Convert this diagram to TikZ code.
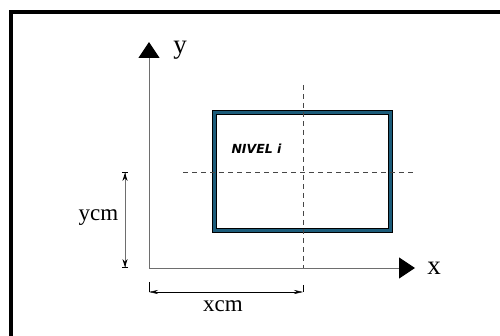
\documentclass[tikz,border=0pt]{standalone}
\usepackage{fontspec}
\setmainfont{Liberation Serif}
\setsansfont{DejaVu Sans}
\usetikzlibrary{arrows.meta}
\definecolor{nivelblue}{RGB}{28,92,122}
\definecolor{axisgray}{RGB}{110,110,110}
\definecolor{dashgray}{RGB}{70,70,70}

\begin{document}
\begin{tikzpicture}[x=1pt,y=-1pt]
\useasboundingbox (0,0) rectangle (500,336);
\draw[line width=4pt] (11,336) -- (11,12) -- (500,12);
\coordinate (O) at (149,268);
\coordinate (ytip) at (149,42);
\coordinate (xtip) at (415,268);
\coordinate (vtop) at (303,85);
\coordinate (vbot) at (303,268);
\coordinate (hleft) at (183,172);
\coordinate (hright) at (416,172);
\node[draw=black, double=nivelblue, double distance=3.4pt, line width=0.8pt, minimum width=176pt, minimum height=118pt] (nivel) at (302.5,171.5) {};
\node[anchor=west, font=\sffamily\bfseries\itshape\fontsize{12.5}{12.5}\selectfont] (niveltext) at (228,149) {NIVEL i};
\draw[dashgray, dash pattern=on 5pt off 4pt] (vtop) -- (vbot);
\draw[dashgray, dash pattern=on 5pt off 4pt] (hleft) -- (hright);
\draw[axisgray, line width=0.9pt, -{Triangle[length=16pt, width=21pt, black]}] (O) -- (ytip);
\draw[axisgray, line width=0.9pt, -{Triangle[length=16pt, width=21pt, black]}] (O) -- (xtip);
\node[anchor=base, font=\fontsize{27}{27}\selectfont] (ylabel) at (180,54) {y};
\node[anchor=base, font=\fontsize{27}{27}\selectfont] (xlabel) at (434,275) {x};
\coordinate (xdimleft) at (149,292);
\coordinate (xdimright) at (303,292);
\draw[thick] (149,282) -- (xdimleft);
\draw[thick] (303,285) -- (xdimright);
\draw[{Stealth[length=9pt, width=4pt]}-{Stealth[length=9pt, width=4pt]}] (xdimleft) -- (xdimright);
\node[anchor=base, font=\fontsize{23}{23}\selectfont] (xcm) at (223,312) {xcm};
\coordinate (ydimtop) at (125,172);
\coordinate (ydimbot) at (125,268);
\draw[axisgray, line width=0.8pt, {Bar[width=6pt, black] Stealth[length=8pt, width=5pt, black]}-{Stealth[length=8pt, width=5pt, black] Bar[width=6pt, black]}] (ydimtop) -- (ydimbot);
\node[anchor=base, font=\fontsize{23}{23}\selectfont] (ycm) at (98.5,221) {ycm};
\end{tikzpicture}
\end{document}
